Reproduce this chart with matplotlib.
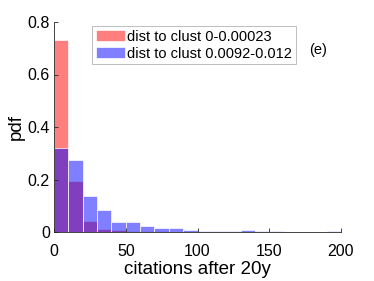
import numpy as np
import matplotlib
matplotlib.use("Agg")
import matplotlib.pyplot as plt

bin_edges = np.arange(0, 210, 10)
red_pdf = [0.731, 0.193, 0.042, 0.013, 0.009, 0.005, 0.002, 0.002, 0.001, 0.001,
           0.0, 0.0, 0.0, 0.0, 0.0, 0.0, 0.0, 0.0, 0.0, 0.0]
blue_pdf = [0.321, 0.273, 0.139, 0.084, 0.037, 0.037, 0.023, 0.016, 0.014, 0.009,
            0.002, 0.005, 0.002, 0.007, 0.005, 0.004, 0.0, 0.0, 0.0, 0.004]
red_label = "dist to clust 0-0.00023"
blue_label = "dist to clust 0.0092-0.012"

plt.rcParams['font.family'] = ['Liberation Sans', 'DejaVu Sans']

fig = plt.figure(figsize=(3.74, 2.81), dpi=100)
ax = fig.add_axes([54/374, 1-232/281, (341-54)/374, (232-22)/281])

lefts = bin_edges[:-1]
w = np.diff(bin_edges)
ax.bar(lefts, red_pdf, width=w, align='edge', color=(1, 0, 0, 0.5),
       edgecolor=(1, 1, 1, 0.7), linewidth=0.7, label=red_label)
ax.bar(lefts, blue_pdf, width=w, align='edge', color=(0, 0, 1, 0.5),
       edgecolor=(1, 1, 1, 0.7), linewidth=0.7, label=blue_label)

ax.set_xlim(0, 200)
ax.set_ylim(0, 0.8)
ax.set_xticks([0, 50, 100, 150, 200])
ax.set_yticks([0, 0.2, 0.4, 0.6, 0.8])
ax.set_yticklabels(['0', '0.2', '0.4', '0.6', '0.8'])
ax.tick_params(direction='in', length=3, width=0.6, colors='#262626',
               labelsize=11.5, labelcolor='black', pad=3)
ax.tick_params(axis='x', pad=9)
for s in ['top', 'right']:
    ax.spines[s].set_visible(False)
for s in ['left', 'bottom']:
    ax.spines[s].set_color('#262626')
    ax.spines[s].set_linewidth(0.6)

ax.set_xlabel('citations after 20y', fontsize=13.5, labelpad=1)
ax.set_ylabel('pdf', fontsize=13.5, labelpad=2)

leg = ax.legend(loc='upper left', bbox_to_anchor=(92/374, 1-26/281),
                bbox_transform=fig.transFigure, fontsize=10.5, frameon=True,
                fancybox=False, borderpad=0.25, labelspacing=0.2,
                handlelength=2.0, handletextpad=0.15, borderaxespad=0)
leg.get_frame().set_edgecolor('#a0a0a0')
leg.get_frame().set_linewidth(0.6)

fig.text(318/374, 1-50/281, '(e)', fontsize=10.5, ha='center', va='center')

fig.savefig('out.png', dpi=100)
